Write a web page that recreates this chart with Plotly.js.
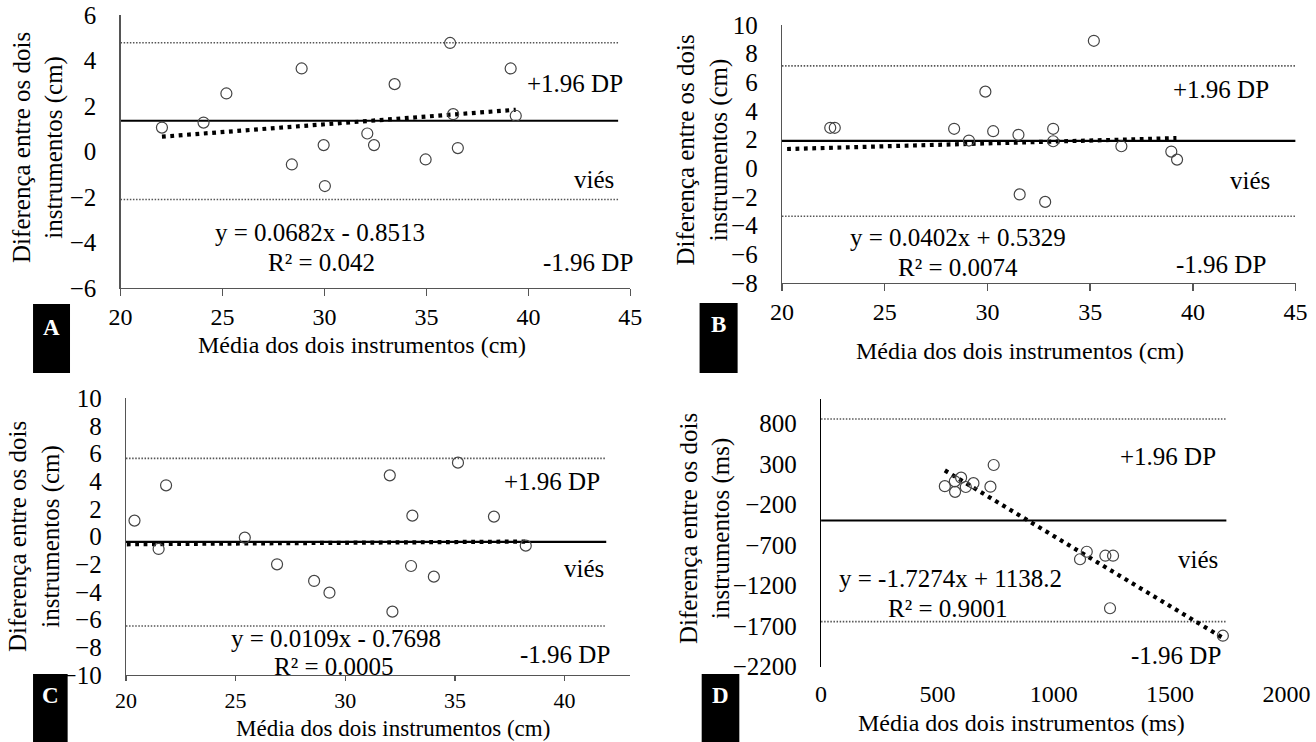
<!DOCTYPE html>
<html>
<head>
<meta charset="utf-8">
<script src="https://cdn.plot.ly/plotly-3.0.1.min.js"></script>
<style>html,body{margin:0;padding:0;background:#fff;}#chart{width:1316px;height:742px;}</style>
</head>
<body>
<div id="chart"></div>
<script>
// ---------- Panel A ----------
const aX = [22.03, 24.07, 25.19, 28.88, 28.40, 29.96, 30.02, 32.10, 32.43, 33.44, 34.96, 36.16, 36.31, 36.54, 39.13, 39.38];
const aY = [1.05, 1.27, 2.55, 3.65, -0.57, 0.28, -1.52, 0.79, 0.28, 2.96, -0.35, 4.77, 1.64, 0.15, 3.65, 1.57];
const aBias = 1.35, aUpper = 4.78, aLower = -2.11;
const aSlope = 0.0682, aIntercept = -0.8513;
const aTrendX = [22.03, 39.38];
const aLineX = [20, 44.4];
const aEq = "y = 0.0682x - 0.8513", aR2 = "R² = 0.042";

// ---------- Panel B ----------
const bX = [22.35, 22.57, 28.38, 29.10, 29.90, 30.28, 31.51, 31.57, 32.81, 33.20, 33.20, 35.18, 36.52, 38.95, 39.23];
const bY = [2.83, 2.83, 2.76, 1.94, 5.35, 2.59, 2.34, -1.82, -2.34, 2.76, 1.89, 8.90, 1.54, 1.17, 0.61];
const bBias = 1.92, bUpper = 7.15, bLower = -3.34;
const bSlope = 0.0402, bIntercept = 0.5329;
const bTrendX = [20.25, 39.2];
const bLineX = [20, 45];
const bEq = "y = 0.0402x + 0.5329", bR2 = "R² = 0.0074";

// ---------- Panel C ----------
const cX = [20.39, 21.49, 21.83, 25.42, 26.89, 28.58, 29.28, 32.03, 32.15, 33.06, 33.00, 34.04, 35.14, 36.78, 38.23];
const cY = [1.16, -0.89, 3.71, -0.07, -2.00, -3.20, -4.05, 4.43, -5.42, 1.52, -2.12, -2.89, 5.35, 1.45, -0.65];
const cBias = -0.38, cUpper = 5.66, cLower = -6.46;
const cSlope = 0.0109, cIntercept = -0.7698;
const cTrendX = [20.04, 38.2];
const cLineX = [20, 41.9];
const cEq = "y = 0.0109x - 0.7698", cR2 = "R² = 0.0005";

// ---------- Panel D ----------
const dX = [532, 576, 575, 602, 622, 655, 728, 742, 1113, 1142, 1222, 1255, 1242, 1727];
const dY = [25, -45, 85, 130, 15, 62, 19, 286, -876, -783, -832, -832, -1480, -1818];
const dBias = -398, dUpper = 853, dLower = -1645;
const dSlope = -1.7274, dIntercept = 1138.2;
const dTrendX = [532, 1727];
const dLineX = [0, 1742];
const dEq = "y = -1.7274x + 1138.2", dR2 = "R² = 0.9001";

const yTitleCm = "Diferença entre os dois<br>instrumentos (cm)";
const yTitleMs = "Diferença entre os dois<br>instrumentos (ms)";
const xTitleCm = "Média dos dois instrumentos (cm)";
const xTitleMs = "Média dos dois instrumentos (ms)";
const labUp = "+1.96 DP", labBias = "viés", labLow = "-1.96 DP";
const panelLetters = ["A", "B", "C", "D"];

const FONT = "Liberation Serif, Times New Roman, serif";

function panelTraces(xs, ys, bias, up, low, slope, icpt, trendX, lineX, xa, ya) {
  const tY = trendX.map(v => slope * v + icpt);
  return [
    {x: lineX, y: [up, up], mode: 'lines', line: {color: '#555', width: 1.6, dash: '1.5px,1.6px'}, xaxis: xa, yaxis: ya, hoverinfo: 'skip'},
    {x: lineX, y: [low, low], mode: 'lines', line: {color: '#555', width: 1.6, dash: '1.5px,1.6px'}, xaxis: xa, yaxis: ya, hoverinfo: 'skip'},
    {x: lineX, y: [bias, bias], mode: 'lines', line: {color: '#000', width: 2.2}, xaxis: xa, yaxis: ya, hoverinfo: 'skip'},
    {x: trendX, y: tY, mode: 'lines', line: {color: '#000', width: 4.2, dash: '3.8px,4.6px'}, xaxis: xa, yaxis: ya},
    {x: xs, y: ys, mode: 'markers', marker: {symbol: 'circle-open', size: 11, color: '#444', line: {width: 1.2}}, xaxis: xa, yaxis: ya}
  ];
}

const data = [].concat(
  panelTraces(aX, aY, aBias, aUpper, aLower, aSlope, aIntercept, aTrendX, aLineX, 'x', 'y'),
  panelTraces(bX, bY, bBias, bUpper, bLower, bSlope, bIntercept, bTrendX, bLineX, 'x2', 'y2'),
  panelTraces(cX, cY, cBias, cUpper, cLower, cSlope, cIntercept, cTrendX, cLineX, 'x3', 'y3'),
  panelTraces(dX, dY, dBias, dUpper, dLower, dSlope, dIntercept, dTrendX, dLineX, 'x4', 'y4')
);

function xAxis(dom, anchor, range, dtick, showline, col, fsize, tlen) {
  return {domain: dom, anchor: anchor, range: range, dtick: dtick, tick0: range[0], showgrid: false, zeroline: false,
    showline: showline, linecolor: col, linewidth: 1.3, ticks: showline ? 'outside' : '', ticklen: tlen, tickcolor: col, tickwidth: 1.3,
    tickfont: {family: FONT, size: fsize, color: '#000'}, ticklabelstandoff: showline ? 0 : 10, fixedrange: true};
}
function yAxis(dom, anchor, range, dtick, col) {
  return {domain: dom, anchor: anchor, range: range, dtick: dtick, tick0: range[0], showgrid: false, zeroline: false,
    showline: true, linecolor: col, linewidth: 1.3, ticks: '', tickfont: {family: FONT, size: 25, color: '#000'},
    ticklabelstandoff: 18, fixedrange: true};
}

function ann(x, y, text, xref, yref, extra) {
  return Object.assign({x: x, y: y, xref: xref, yref: yref, text: text, showarrow: false,
    font: {family: FONT, size: 25, color: '#000'}, xanchor: 'center', yanchor: 'middle'}, extra || {});
}
const letterFont = {family: FONT, size: 23, color: '#fff', weight: 'bold'};
const xTitleFont = {family: FONT, size: 24, color: '#000'};

const annotations = [
  // A
  ann(42.3, 3.01, labUp, 'x', 'y'), ann(43.2, -1.25, labBias, 'x', 'y'), ann(42.9, -4.87, labLow, 'x', 'y'),
  ann(29.8, -3.58, aEq, 'x', 'y'), ann(29.85, -4.90, aR2, 'x', 'y'),
  // B
  ann(41.36, 5.49, labUp, 'x2', 'y2'), ann(42.8, -0.86, labBias, 'x2', 'y2'), ann(41.36, -6.7, labLow, 'x2', 'y2'),
  ann(28.59, -4.84, bEq, 'x2', 'y2'), ann(28.59, -6.94, bR2, 'x2', 'y2'),
  // C
  ann(39.42, 3.98, labUp, 'x3', 'y3'), ann(40.87, -2.29, labBias, 'x3', 'y3'), ann(40.0, -8.55, labLow, 'x3', 'y3'),
  ann(29.59, -7.35, cEq, 'x3', 'y3'), ann(29.49, -9.4, cR2, 'x3', 'y3'),
  // D
  ann(1491, 397, labUp, 'x4', 'y4'), ann(1618, -876, labBias, 'x4', 'y4'), ann(1527, -2068, labLow, 'x4', 'y4'),
  ann(555, -1110, dEq, 'x4', 'y4'), ann(545, -1480, dR2, 'x4', 'y4'),
  // axis titles
  ann(0.0296, 0.8019, yTitleCm, 'paper', 'paper', {textangle: -90}),
  ann(0.5338, 0.7978, yTitleCm, 'paper', 'paper', {textangle: -90}),
  ann(0.0266, 0.2763, yTitleCm, 'paper', 'paper', {textangle: -90}),
  ann(0.5357, 0.2884, yTitleMs, 'paper', 'paper', {textangle: -90}),
  ann(0.2748, 0.5350, xTitleCm, 'paper', 'paper', {font: xTitleFont}),
  ann(0.7749, 0.5270, xTitleCm, 'paper', 'paper', {font: xTitleFont}),
  ann(0.2989, 0.0, xTitleCm, 'paper', 'paper', {font: {family: FONT, size: 23, color: '#000'}, yanchor: 'bottom', borderpad: 0}),
  ann(0.7765, 0.0256, xTitleMs, 'paper', 'paper', {font: xTitleFont}),
  // panel letters
  ann(0.0391, 0.558, panelLetters[0], 'paper', 'paper', {font: letterFont}),
  ann(0.5460, 0.562, panelLetters[1], 'paper', 'paper', {font: letterFont}),
  ann(0.0380, 0.0633, panelLetters[2], 'paper', 'paper', {font: letterFont}),
  ann(0.5475, 0.0633, panelLetters[3], 'paper', 'paper', {font: letterFont})
];

const shapes = [
  {type: 'rect', xref: 'paper', yref: 'paper', x0: 0.0251, x1: 0.0532, y0: 0.4973, y1: 0.5903, fillcolor: '#000', line: {width: 0}, layer: 'below'},
  {type: 'rect', xref: 'paper', yref: 'paper', x0: 0.5316, x1: 0.5605, y0: 0.4973, y1: 0.5916, fillcolor: '#000', line: {width: 0}, layer: 'below'},
  {type: 'rect', xref: 'paper', yref: 'paper', x0: 0.0251, x1: 0.0514, y0: 0.0, y1: 0.0916, fillcolor: '#000', line: {width: 0}, layer: 'below'},
  {type: 'rect', xref: 'paper', yref: 'paper', x0: 0.5332, x1: 0.5618, y0: 0.0, y1: 0.0916, fillcolor: '#000', line: {width: 0}, layer: 'below'}
];

const layout = {
  width: 1316, height: 742,
  margin: {l: 0, r: 0, t: 0, b: 0},
  paper_bgcolor: '#fff', plot_bgcolor: 'rgba(0,0,0,0)',
  showlegend: false,
  font: {family: FONT, size: 25, color: '#000'},
  xaxis: xAxis([0.0916, 0.479], 'y', [20, 45], 5, true, '#555', 24, 7),
  yaxis: yAxis([0.6119, 0.9798], 'x', [-6, 6], 2, '#555'),
  xaxis2: xAxis([0.5942, 0.9845], 'y2', [20, 45], 5, true, '#555', 24, 7),
  yaxis2: yAxis([0.6186, 0.9663], 'x2', [-8, 10], 2, '#555'),
  xaxis3: xAxis([0.0957, 0.479], 'y3', [20, 43], 5, true, '#555', 22, 5),
  yaxis3: yAxis([0.0903, 0.4632], 'x3', [-10, 10], 2, '#555'),
  xaxis4: xAxis([0.6239, 0.9775], 'y4', [0, 2000], 500, false, '#000', 24, 7),
  yaxis4: yAxis([0.1015, 0.4623], 'x4', [-2200, 1100], 500, '#000'),
  annotations: annotations,
  shapes: shapes
};

Plotly.newPlot('chart', data, layout, {displayModeBar: false, staticPlot: true});
</script>
</body>
</html>
